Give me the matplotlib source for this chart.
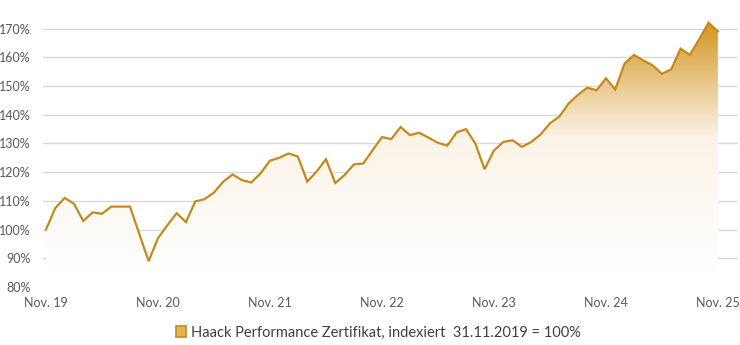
import numpy as np
import matplotlib
matplotlib.use("Agg")
import matplotlib.pyplot as plt
from matplotlib.patches import Patch
from matplotlib.colors import LinearSegmentedColormap

plt.rcParams['font.family'] = ['Lato', 'DejaVu Sans']

# monthly index values, Nov. 2019 = 100
index_values = [100, 107.5, 111, 109, 103, 106, 105.5, 108, 108, 108, 98.5, 89,
                97, 101.5, 105.7, 102.6, 109.8, 110.6, 112.9, 116.7, 119.2, 117.2, 116.4, 119.6,
                124, 125, 126.5, 125.4, 116.7, 120.2, 124.5, 116.2, 119, 122.7, 123, 127.6,
                132.2, 131.5, 135.7, 132.9, 133.7, 132, 130.2, 129.2, 133.8, 135, 130, 121,
                127.5, 130.5, 131.1, 128.8, 130.5, 133.1, 137, 139.3, 143.9, 146.9, 149.4, 148.5,
                152.7, 148.8, 157.8, 160.8, 158.9, 157.2, 154.2, 155.8, 163, 160.8, 166.3, 172,
                169]
x_labels = ["Nov. 19", "Nov. 20", "Nov. 21", "Nov. 22", "Nov. 23", "Nov. 24", "Nov. 25"]
y_ticks = [80, 90, 100, 110, 120, 130, 140, 150, 160, 170]
legend_label = "Haack Performance Zertifikat, indexiert  31.11.2019 = 100%"

line_color = "#C48A1C"
top_color = "#D39620"

months = np.arange(len(index_values))
vals = np.array(index_values)

fig = plt.figure(figsize=(7.4, 3.45), dpi=100)
ax = fig.add_axes([0.0581, 0.168, 0.939, 0.791])

ymin, ymax = 80, 175
ax.set_xlim(-0.32, 74.14)
ax.set_ylim(ymin, ymax)

# gradient fill under the line, clipped to the area polygon
cmap = LinearSegmentedColormap.from_list("gold", ["#FFFFFF", "#FBF3E6", top_color])
grad = np.linspace(0, 1, 256).reshape(-1, 1) ** 1.15
img = ax.imshow(grad, cmap=cmap, aspect="auto", origin="lower",
                extent=[months[0], months[-1], 83, vals.max()], zorder=1)
poly = ax.fill_between(months, vals, ymin, color="none", lw=0)
clip = poly.get_paths()[0]
img.set_clip_path(clip, transform=ax.transData)

ax.plot(months, vals, color=line_color, lw=1.6, zorder=3, solid_joinstyle="miter")

ax.set_yticks(y_ticks)
ax.set_yticklabels([f"{v}%" for v in y_ticks])
ax.set_xticks(np.arange(0, len(index_values), 12))
ax.set_xticklabels(x_labels)
ax.yaxis.grid(True, color="#D9D9D9", lw=1)
ax.get_ygridlines()[0].set_visible(False)
ax.set_axisbelow(True)
for s in ax.spines.values():
    s.set_visible(False)
ax.tick_params(length=0, labelsize=9, labelcolor="#595959")
ax.tick_params(axis="y", pad=9)
ax.tick_params(axis="x", pad=7)

handle = Patch(facecolor="#E2B55A", edgecolor=line_color, lw=1.2)
fig.legend([handle], [legend_label], loc="center", bbox_to_anchor=(0.511, 0.035),
           frameon=False, fontsize=10.5, labelcolor="#404040",
           handlelength=0.75, handleheight=0.75, handletextpad=0.3)

fig.savefig("out.png", dpi=100)
